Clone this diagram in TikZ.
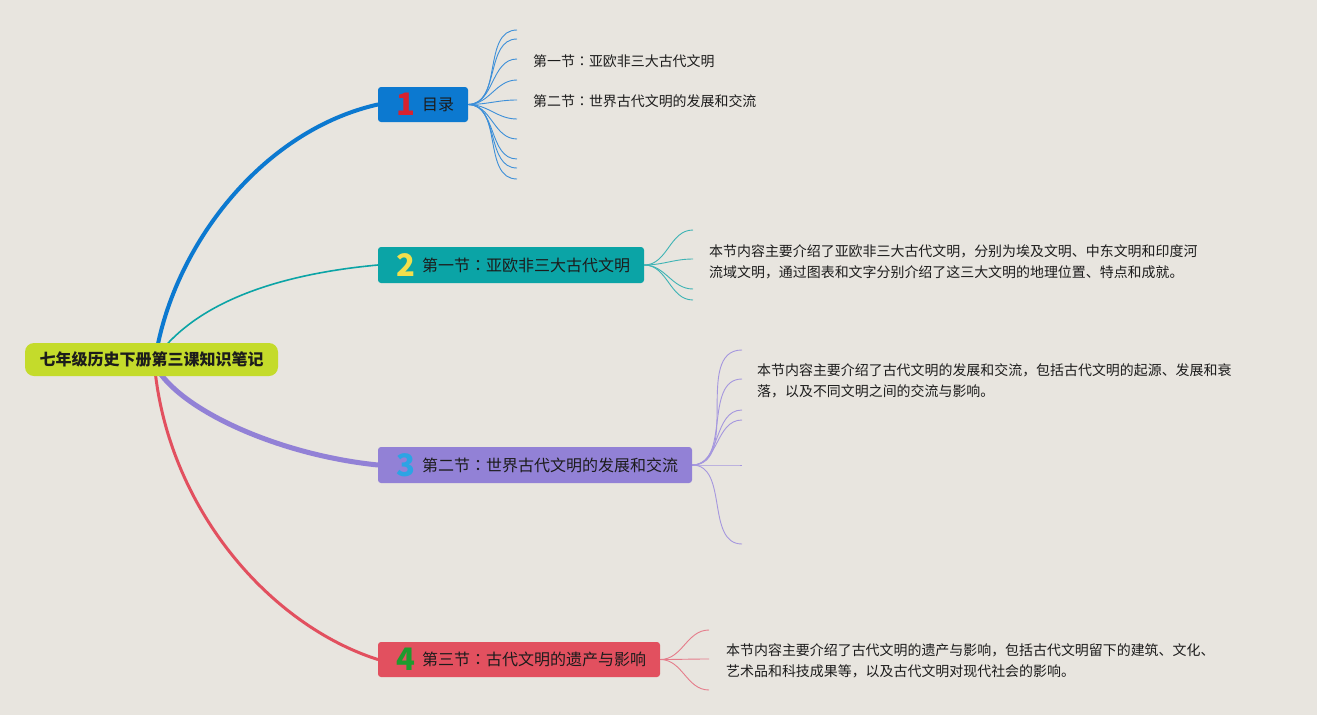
\documentclass[tikz,border=0pt]{standalone}
\usepackage{fontspec}
\setmainfont{Noto Sans CJK SC}
\newfontfamily\jpcolonfont{Noto Sans CJK JP}
\newcommand{\fwcolon}{{\jpcolonfont ：}}
\usetikzlibrary{calc,backgrounds}
\definecolor{bg}{HTML}{E8E5DF}
\definecolor{rootc}{HTML}{C4DB2B}
\definecolor{txt}{HTML}{1C1C1C}
\definecolor{cblue}{HTML}{0C79D0}
\definecolor{cteal}{HTML}{0BA4A6}
\definecolor{cpurple}{HTML}{9281D6}
\definecolor{cred}{HTML}{E2505F}
\definecolor{lblue}{HTML}{3D8FD8}
\definecolor{lteal}{HTML}{3DB3B4}
\definecolor{lpurple}{HTML}{A597DE}
\definecolor{lred}{HTML}{E57C8A}
\definecolor{dred}{HTML}{D8222F}
\definecolor{dyellow}{HTML}{F2DF4C}
\definecolor{dblue}{HTML}{2CA4E4}
\definecolor{dgreen}{HTML}{1E9B2E}
\begin{document}
\begin{tikzpicture}[x=1pt,y=-1pt,
  rootbox/.style={rounded corners=9pt, fill=rootc, minimum width=253pt, minimum height=33pt, inner sep=0pt, text=txt, font=\fontsize{16}{18}\selectfont\bfseries},
  topicbox/.style={rounded corners=3pt, minimum height=35pt, inner sep=0pt},
  digit/.style={inner sep=0pt, font=\fontsize{31}{31}\selectfont\bfseries},
  topiclabel/.style={inner sep=0pt, anchor=west, text=txt, font=\fontsize{16}{19}\selectfont},
  leaf/.style={inner sep=0pt, anchor=west, align=left, text=txt, font=\fontsize{13.95}{20.8}\selectfont},
  mainline/.style={line cap=round},
  twig/.style={line width=0.9pt}]
\useasboundingbox (0,0) rectangle (1317,715);

% nodes
\node[rootbox] (root) at (151.5,359.5) {七年级历史下册第三课知识笔记};

\node[topicbox, fill=cblue, minimum width=90pt] (b1) at (423,104.5) {};
\node[digit, text=dred] (n1) at (406,104.5) {1};
\node[topiclabel] (t1) at (422,104.5) {目录};

\node[topicbox, fill=cteal, minimum width=266pt, minimum height=36pt] (b2) at (511,265) {};
\node[digit, text=dyellow] (n2) at (406,265) {2};
\node[topiclabel] (t2) at (422,265) {第一节\fwcolon 亚欧非三大古代文明};

\node[topicbox, fill=cpurple, minimum width=314pt, minimum height=36pt] (b3) at (535,465) {};
\node[digit, text=dblue] (n3) at (406,465) {3};
\node[topiclabel] (t3) at (422,465) {第二节\fwcolon 世界古代文明的发展和交流};

\node[topicbox, fill=cred, minimum width=282pt] (b4) at (519,659.5) {};
\node[digit, text=dgreen] (n4) at (406,659.5) {4};
\node[topiclabel] (t4) at (422,659.5) {第三节\fwcolon 古代文明的遗产与影响};

% leaf texts
\node[leaf] (l1a) at (533,61) {第一节\fwcolon 亚欧非三大古代文明};
\node[leaf] (l1b) at (533,101) {第二节\fwcolon 世界古代文明的发展和交流};
\node[leaf] (l2) at (709,262) {本节内容主要介绍了亚欧非三大古代文明，分别为埃及文明、中东文明和印度河\\流域文明，通过图表和文字分别介绍了这三大文明的地理位置、特点和成就。};
\node[leaf] (l3) at (757,381) {本节内容主要介绍了古代文明的发展和交流，包括古代文明的起源、发展和衰\\落，以及不同文明之间的交流与影响。};
\node[leaf] (l4) at (726,660.5) {本节内容主要介绍了古代文明的遗产与影响，包括古代文明留下的建筑、文化、\\艺术品和科技成果等，以及古代文明对现代社会的影响。};

\begin{pgfonlayer}{background}
\fill[bg] (0,0) rectangle (1317,715);
% main connectors
\draw[mainline, cblue, line width=4pt] ($(root.north)+(5.5,6)$) .. controls (178,240) and (265,130) .. (b1.west);
\draw[mainline, cteal, line width=1.6pt] ($(root.north)+(11.5,6)$) .. controls (200,305) and (270,275) .. (b2.west);
\draw[mainline, cpurple, line width=5pt] ($(root.south)+(6.5,-6)$) .. controls (185,412) and (280,455) .. (b3.west);
\draw[mainline, cred, line width=3pt] ($(root.south)+(3.5,-6)$) .. controls (170,510) and (270,625) .. (b4.west);
% twigs
\foreach \yy [count=\i] in {30,39,59,80,100,119,139,159,168,179}{
  \coordinate (e1-\i) at (517,\yy);
  \draw[twig, lblue] (b1.east) to[out=0,in=180] (e1-\i);
}
\foreach \yy [count=\i] in {230,259,289,300}{
  \coordinate (e2-\i) at (693,\yy);
  \draw[twig, lteal] (b2.east) to[out=0,in=180] (e2-\i);
}
\foreach \yy [count=\i] in {350,379,410,420,465,544}{
  \coordinate (e3-\i) at (742,\yy);
  \draw[twig, lpurple] (b3.east) to[out=0,in=180] (e3-\i);
}
\foreach \yy [count=\i] in {630,659,690}{
  \coordinate (e4-\i) at (709,\yy);
  \draw[twig, lred] (b4.east) to[out=0,in=180] (e4-\i);
}
\end{pgfonlayer}
\end{tikzpicture}
\end{document}
